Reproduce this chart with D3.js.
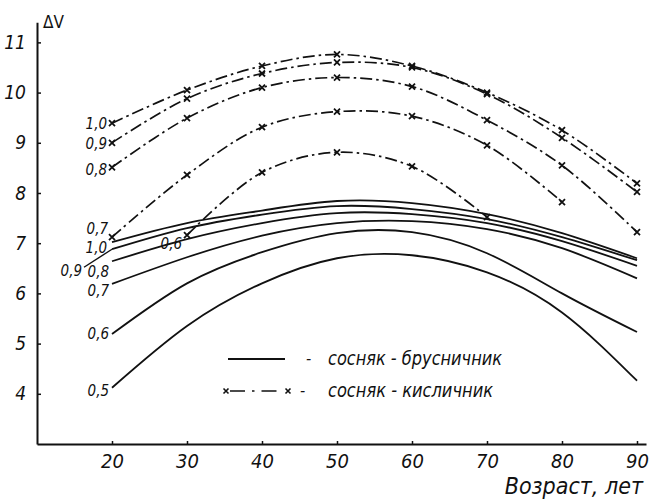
<!DOCTYPE html>
<html>
<head>
<meta charset="utf-8">
<script src="https://cdn.jsdelivr.net/npm/d3@7"></script>
<style>
body { margin: 0; background: #fff; }
svg text { font-family: "Liberation Sans Narrow", "DejaVu Sans Condensed", sans-serif; font-style: italic; fill: #111; }
</style>
</head>
<body>
<svg id="chart" width="650" height="499"></svg>
<script>
// возраст, лет
const ages = [20, 30, 40, 50, 60, 70, 80, 90];
const ages07 = [20, 30, 40, 50, 60, 70, 80];
const ages06 = [30, 40, 50, 60, 70];

// сосняк-брусничник (сплошные)
const brus10 = [7.02, 7.40, 7.65, 7.84, 7.80, 7.58, 7.20, 6.70];
const brus09 = [6.88, 7.30, 7.57, 7.74, 7.68, 7.48, 7.12, 6.66];
const brus08 = [6.64, 7.08, 7.40, 7.60, 7.58, 7.40, 7.04, 6.55];
const brus07 = [6.19, 6.72, 7.15, 7.40, 7.44, 7.28, 6.90, 6.30];
const brus06 = [5.19, 6.20, 6.82, 7.20, 7.22, 6.80, 6.00, 5.23];
const brus05 = [4.12, 5.35, 6.20, 6.70, 6.76, 6.42, 5.62, 4.26];

// сосняк-кисличник (штрихпунктир)
const kisl10 = [9.39, 10.05, 10.53, 10.76, 10.53, 10.00, 9.25, 8.19];
const kisl09 = [9.00, 9.88, 10.38, 10.60, 10.50, 9.97, 9.10, 8.02];
const kisl08 = [8.51, 9.49, 10.10, 10.30, 10.12, 9.45, 8.55, 7.22];
const kisl07 = [7.12, 8.36, 9.31, 9.62, 9.53, 8.95, 7.82];
const kisl06 = [7.16, 8.41, 8.81, 8.53, 7.52];

const yTicks = [4, 5, 6, 7, 8, 9, 10, 11];

const solidSeries = [
  { name: "1,0", ages: ages, vals: brus10 },
  { name: "0,9", ages: ages, vals: brus09 },
  { name: "0,8", ages: ages, vals: brus08 },
  { name: "0,7", ages: ages, vals: brus07 },
  { name: "0,6", ages: ages, vals: brus06 },
  { name: "0,5", ages: ages, vals: brus05 }
];
const dashSeries = [
  { name: "1,0", ages: ages, vals: kisl10 },
  { name: "0,9", ages: ages, vals: kisl09 },
  { name: "0,8", ages: ages, vals: kisl08 },
  { name: "0,7", ages: ages07, vals: kisl07 },
  { name: "0,6", ages: ages06, vals: kisl06 }
];

// label offsets from the first point of each curve
const solidLabelOff = { "1,0": [-5, 6], "0,9": [-30, 22], "0,8": [-3, 10], "0,7": [-3, 7], "0,6": [-3, 0], "0,5": [-3, 3] };
const dashLabelOff = { "1,0": [-5, 1], "0,9": [-5, 1], "0,8": [-5, 2], "0,7": [-4, -8], "0,6": [-5, 9] };

const svg = d3.select("#chart");

const x = d3.scaleLinear().domain([10, 91.2]).range([37, 646]);
const y = d3.scaleLinear().domain([3, 11.4]).range([444, 22.3]);

const ink = "#111";

// axes
const xAxis = svg.append("g")
  .attr("transform", `translate(0,${y(3)})`)
  .call(d3.axisBottom(x).tickValues(ages).tickFormat(d3.format("d")).tickSize(-3).tickSizeOuter(0).tickPadding(10));
xAxis.selectAll("text").attr("font-size", 20).attr("font-family", null).style("fill", ink);

const yAxis = svg.append("g")
  .attr("transform", `translate(${x(10)},0)`)
  .call(d3.axisLeft(y).tickValues(yTicks).tickSize(-4).tickSizeOuter(0).tickPadding(11));
yAxis.selectAll("text").attr("font-size", 19).attr("font-family", null).style("fill", ink);

svg.selectAll(".domain").attr("stroke", ink).attr("stroke-width", 2);
svg.selectAll(".tick line").attr("stroke", ink).attr("stroke-width", 1.5);

svg.append("text")
  .attr("x", x(10) + 6)
  .attr("y", 28)
  .attr("font-size", 17)
  .style("font-style", "normal")
  .text("ΔV");

svg.append("text")
  .attr("x", 643)
  .attr("y", 494)
  .attr("text-anchor", "end")
  .attr("font-size", 23)
  .text("Возраст, лет");

// curves
const solidLine = d3.line().x(d => x(d[0])).y(d => y(d[1])).curve(d3.curveNatural);
const dashLine = d3.line().x(d => x(d[0])).y(d => y(d[1])).curve(d3.curveCatmullRom.alpha(0.5));

const pts = s => s.ages.map((a, i) => [a, s.vals[i]]);

svg.append("g").selectAll("path")
  .data(solidSeries)
  .join("path")
  .attr("d", s => solidLine(pts(s)))
  .attr("fill", "none")
  .attr("stroke", ink)
  .attr("stroke-width", 1.8);

svg.append("g").selectAll("path")
  .data(dashSeries)
  .join("path")
  .attr("d", s => dashLine(pts(s)))
  .attr("fill", "none")
  .attr("stroke", ink)
  .attr("stroke-width", 1.7)
  .attr("stroke-dasharray", "12,4,2.5,4");

const cross = "M-3,-3L3,3M-3,3L3,-3";
svg.append("g").selectAll("path")
  .data(dashSeries.flatMap(pts))
  .join("path")
  .attr("transform", d => `translate(${x(d[0])},${y(d[1])})`)
  .attr("d", cross)
  .attr("stroke", ink)
  .attr("stroke-width", 1.8);

// curve labels
svg.append("g").selectAll("text")
  .data(solidSeries)
  .join("text")
  .attr("x", s => x(s.ages[0]) + solidLabelOff[s.name][0])
  .attr("y", s => y(s.vals[0]) + solidLabelOff[s.name][1])
  .attr("dy", "0.35em")
  .attr("text-anchor", "end")
  .attr("font-size", 15)
  .text(s => s.name);

svg.append("g").selectAll("text")
  .data(dashSeries)
  .join("text")
  .attr("x", s => x(s.ages[0]) + dashLabelOff[s.name][0])
  .attr("y", s => y(s.vals[0]) + dashLabelOff[s.name][1])
  .attr("dy", "0.35em")
  .attr("text-anchor", "end")
  .attr("font-size", 15)
  .text(s => s.name);

// leader for the 0,9 solid label
const s09 = solidSeries[1];
svg.append("path")
  .attr("d", d3.line()([
    [x(s09.ages[0]) - 28, y(s09.vals[0]) + 18],
    [x(s09.ages[0]), y(s09.vals[0])]
  ]))
  .attr("stroke", ink)
  .attr("stroke-width", 1.4)
  .attr("fill", "none");

// legend
const leg = svg.append("g").attr("transform", "translate(226,0)");
leg.append("line").attr("x1", 2).attr("x2", 59).attr("y1", 359).attr("y2", 359)
  .attr("stroke", ink).attr("stroke-width", 2);
leg.append("text").attr("x", 80).attr("y", 364).attr("font-size", 16).text("-");
leg.append("text").attr("x", 102).attr("y", 365).attr("font-size", 20)
  .attr("textLength", 174).attr("lengthAdjust", "spacingAndGlyphs")
  .text("сосняк - брусничник");

leg.append("line").attr("x1", 0).attr("x2", 62).attr("y1", 391).attr("y2", 391)
  .attr("stroke", ink).attr("stroke-width", 1.7).attr("stroke-dasharray", "0,4,15,7,2.5,7,15,100");
leg.selectAll(".lm").data([0, 62]).join("path").attr("class", "lm")
  .attr("transform", d => `translate(${d},391)`)
  .attr("d", "M-2.5,-2.5L2.5,2.5M-2.5,2.5L2.5,-2.5")
  .attr("stroke", ink).attr("stroke-width", 1.6);
leg.append("text").attr("x", 74).attr("y", 396).attr("font-size", 16).text("-");
leg.append("text").attr("x", 102).attr("y", 397).attr("font-size", 20)
  .attr("textLength", 165).attr("lengthAdjust", "spacingAndGlyphs")
  .text("сосняк - кисличник");
</script>
</body>
</html>
